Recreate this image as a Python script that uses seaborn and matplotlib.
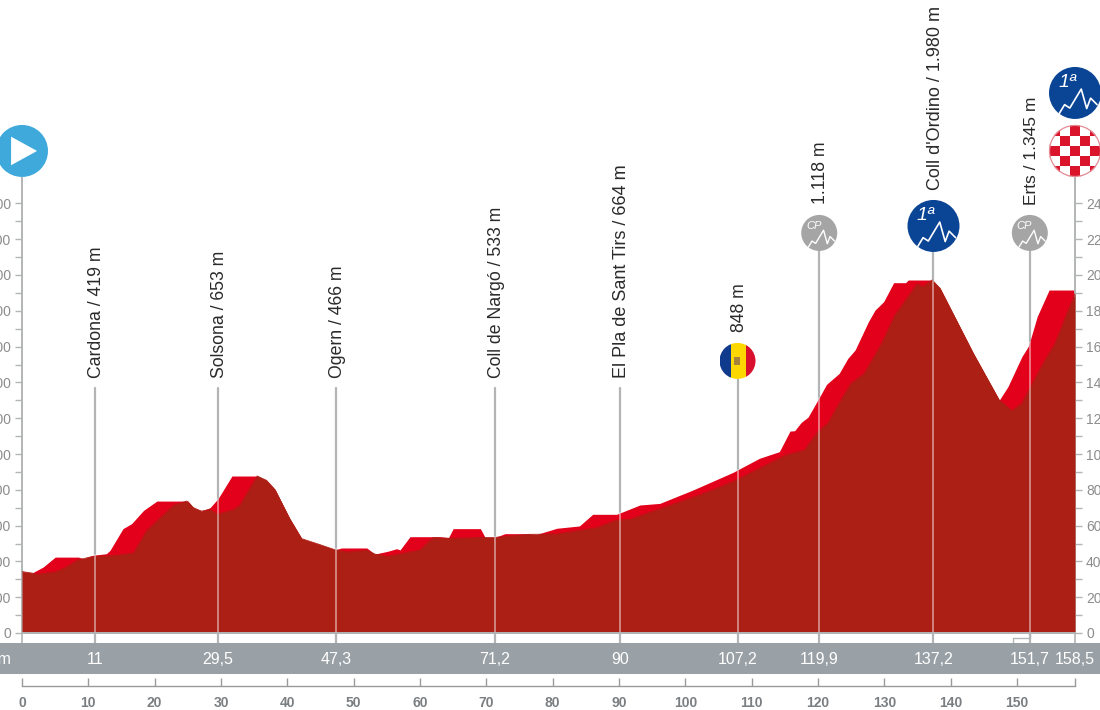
import numpy as np
import matplotlib
matplotlib.use('Agg')
import matplotlib.pyplot as plt
import seaborn as sns
from matplotlib.patches import Circle, Rectangle, Polygon
from matplotlib.transforms import ScaledTranslation

# profile: km and metres
km_dark = [0, 1.5, 2.2, 5, 6.5, 8.5, 9.2, 10.7, 13.75, 16.8, 18.8, 22.8, 24.8, 25.8, 27, 28.3, 29.4, 31.8, 32.8, 35.4,
           36.8, 38.1, 40.3, 42.1, 44.9, 47.1, 48.9, 51.9, 53.1, 55, 56.9, 59.9, 61.9, 64.2, 69, 71.2, 76.2, 80.5,
           86.5, 89.5, 91.5, 97, 102, 107, 111, 115, 117.8, 119.8, 121.3, 123, 124.8, 126.8, 129.4, 131.4, 134.7,
           135.6, 137, 138.2, 143.2, 147.1, 149, 150.5, 151.7, 153.7, 155.5, 158.5]
alt_dark = [343, 335, 328, 341, 365, 410, 415, 428, 432, 447, 573, 713, 737, 700, 681, 690, 663, 689, 713, 877,
            853, 800, 639, 527, 493, 465, 452, 462, 441, 428, 441, 464, 533, 529, 533, 534, 551, 553,
            588, 631, 635, 706, 771, 845, 920, 994, 1022, 1125, 1171, 1283, 1395, 1450, 1618, 1776, 1949,
            1935, 1972, 1925, 1562, 1301, 1242, 1283, 1367, 1506, 1618, 1897]
km_bright = [0, 1.5, 3.2, 5, 8.5, 9.2, 10.7, 12.7, 13.25, 15.2, 16.5, 18.3, 20.3, 25, 25.8, 27, 28.3, 29.5, 31.6, 35.4,
             36.8, 38.1, 40.3, 42.1, 44.9, 47.1, 48.1, 51.9, 53.1, 55, 56.4, 56.9, 58.4, 62.9, 64.2, 64.9, 69, 69.7,
             71.2, 72.7, 76.2, 77.5, 80.5, 83.9, 85.9, 89.5, 93, 96, 101, 107, 111, 114, 115.6, 116.3, 117.3, 118.3,
             119.8, 121.1, 123, 124.3, 125.4, 127.4, 128.4, 129.7, 131.2, 133, 133.4, 137, 138.2, 143.2, 147.1,
             148.4, 150.5, 151.5, 152.8, 154.6, 158.5]
alt_bright = [343, 335, 369, 424, 424, 415, 434, 443, 462, 583, 611, 685, 737, 737, 700, 681, 700, 750, 877, 877,
              853, 800, 639, 527, 493, 465, 475, 475, 441, 456, 471, 464, 538, 538, 533, 583, 583, 534,
              534, 555, 555, 551, 585, 598, 663, 663, 715, 724, 799, 897, 976, 1013, 1128, 1130, 1177, 1205,
              1302, 1389, 1450, 1534, 1581, 1739, 1804, 1851, 1957, 1957, 1972, 1972, 1925, 1562, 1301,
              1376, 1544, 1603, 1767, 1916, 1916]

# towns along the route
line_km = [11, 29.5, 47.3, 71.2, 90, 107.7, 120, 137.2, 151.7]
line_top = [1369, 1369, 1369, 1369, 1369, 1425, 2235, 2274, 2235]
place_labels = ['Cardona / 419 m', 'Solsona / 653 m', 'Ogern / 466 m', 'Coll de Nargó / 533 m',
                'El Pla de Sant Tirs / 664 m', '848 m', '1.118 m', "Coll d'Ordino / 1.980 m", 'Erts / 1.345 m']
label_base = [1425, 1425, 1425, 1425, 1425, 1682, 2397, 2475, 2391]
label_size = [12.7, 12.7, 12.7, 12.7, 13, 12.7, 12.7, 13, 12.5]
band_km = [11, 29.5, 47.3, 71.2, 90, 107.7, 120, 137.2, 151.7, 158.5]
band_labels = ['11', '29,5', '47,3', '71,2', '90', '107,2', '119,9', '137,2', '151,7', '158,5']
ruler_ticks = list(range(0, 151, 10))

BRIGHT = '#e2001a'
DARK = '#ab1f14'
GRID = '#b2b4b6'
BAND = '#9aa1a6'
BLUE = '#0a4595'

sns.set_theme(style='white')
plt.rcParams['font.family'] = ['Liberation Sans', 'DejaVu Sans']

W, H = 1100, 710
fig = plt.figure(figsize=(W / 100, H / 100), dpi=100)

# main profile axes, px 22..1075 across and 178..633 down
ax = fig.add_axes([22 / W, (H - 633) / H, 1053 / W, 455 / H])
ax.set_xlim(0, 158.5)
ax.set_ylim(0, 455 / 0.179)
ax.patch.set_alpha(0)

ax.fill_between(km_bright, alt_bright, 0, color=BRIGHT, lw=0, zorder=2)
ax.fill_between(km_dark, alt_dark, 0, color=DARK, lw=0, zorder=3)
sns.lineplot(x=km_dark, y=alt_dark, color=DARK, lw=0.6, ax=ax, zorder=3, estimator=None, sort=False)

for km, top, label, base, size in zip(line_km, line_top, place_labels, label_base, label_size):
    ax.plot([km, km], [-56, top], color=GRID, lw=1.6, zorder=1, clip_on=False)
    # the line shows through the red as a pale stripe
    ax.plot([km, km], [0, np.interp(km, km_bright, alt_bright)], color='white', lw=1.4, alpha=0.45, zorder=4)
    ax.text(km + 0.25, base, label, rotation=90, ha='center', va='bottom', fontsize=size, color='#2a2a2a', clip_on=False)

# leader from Erts down to its label in the band
ax.plot([151.7, 151.7, 149.1, 149.1], [0, -28, -28, -56], color=GRID, lw=1, clip_on=False, zorder=4)
ax.plot([158.5, 158.5], [0, -56], color=GRID, lw=1.2, clip_on=False)
ax.plot([0, 0], [0, -56], color=GRID, lw=1.2, clip_on=False)

ax.spines['top'].set_visible(False)
for side in ['left', 'right', 'bottom']:
    ax.spines[side].set_color(GRID)
    ax.spines[side].set_linewidth(1.4)
ax.spines['bottom'].set_zorder(5)
ax.set_xticks([])
ax.set_yticks(np.arange(0, 2401, 200))
ax.set_yticks(np.arange(100, 2400, 200), minor=True)
ax.tick_params(axis='y', which='both', left=True, right=True, labelleft=True, labelright=True,
               length=5, width=1, color=GRID, labelcolor='#8c8c8c', labelsize=10, pad=3)
ax.grid(False)

# grey km band
band = fig.add_axes([0, (H - 674) / H, 1, 31 / H])
band.set_facecolor(BAND)
band.set_xlim(-22 / 6.644, 1078 / 6.644)
band.set_ylim(0, 1)
band.set_xticks([])
band.set_yticks([])
for s in band.spines.values():
    s.set_visible(False)
for km, label in zip(band_km, band_labels):
    band.text(km, 0.48, label, color='white', ha='center', va='center', fontsize=11.5)
band.text(-1.5, 0.48, 'Km', color='white', ha='right', va='center', fontsize=11.5)

# distance ruler
ruler = fig.add_axes([22 / W, (H - 686) / H, 1053 / W, 0.001])
ruler.set_xlim(0, 158.75)
ruler.set_yticks([])
ruler.patch.set_alpha(0)
for side in ['top', 'left', 'right']:
    ruler.spines[side].set_visible(False)
ruler.spines['bottom'].set_color('#9a9a9a')
ruler.spines['bottom'].set_linewidth(1)
ruler.set_xticks(ruler_ticks + [158.7])
ruler.set_xticklabels([str(t) for t in ruler_ticks] + [''], fontsize=10, fontweight='bold', color='#7b7f82')
ruler.tick_params(axis='x', direction='in', length=6, width=1, color='#9a9a9a', pad=7, bottom=True)


def disc(km, alt, r, color, z=6):
    c = Circle((0, 0), r, transform=ScaledTranslation(km, alt, ax.transData), color=color, lw=0, zorder=z, clip_on=False)
    ax.add_patch(c)
    return c


def clip_to(patch, c):
    patch.set_clip_box(None)
    patch.set_clip_path(c)


def climb_badge(km, alt, r, color, text, size, lw):
    disc(km, alt, r, color)
    tr = ScaledTranslation(km, alt, ax.transData)
    shape = np.array([(-.6, -.78), (-.4, -.45), (-.2, -.58), (.24, .15), (.45, -.6), (.6, -.2), (.85, -.45)]) * r
    ax.plot(shape[:, 0], shape[:, 1], color='white', lw=lw, transform=tr, zorder=7, clip_on=False)
    ax.annotate(text, (km, alt), xytext=(-0.3 * r * 0.72, 0.4 * r * 0.72), textcoords='offset points', color='white',
                ha='center', va='center', fontsize=size, style='italic', zorder=7, annotation_clip=False)


# start marker
disc(0, 2693, 26, '#3fa9dc')
tr0 = ScaledTranslation(0, 2693, ax.transData)
ax.add_patch(Polygon(np.array([(-.42, .55), (-.42, -.55), (.58, 0)]) * 26, transform=tr0, color='white', lw=0, zorder=7, clip_on=False))

# mountain passes
climb_badge(120, 2235, 18, '#a5a5a5', 'CP', 8, 1.0)
climb_badge(151.7, 2235, 18, '#a5a5a5', 'CP', 8, 1.0)
climb_badge(137.2, 2274, 26, BLUE, '1ª', 14, 1.2)
climb_badge(158.5, 3017, 26, BLUE, '1ª', 14, 1.2)

# finish: checkered disc
c = disc(158.5, 2693, 26, 'white')
tr1 = ScaledTranslation(158.5, 2693, ax.transData)
sq = 10.2
for i in range(-3, 4):
    for j in range(-3, 4):
        if (i + j) % 2 == 0:
            r = Rectangle(((i - 0.5) * sq, (j - 0.5) * sq), sq, sq, transform=tr1, color='#d9142b', lw=0, zorder=7)
            ax.add_patch(r)
            clip_to(r, c)
ax.add_patch(Circle((0, 0), 25.5, transform=tr1, fill=False, ec='#e58a94', lw=0.9, zorder=8, clip_on=False))

# andorra flag
c = disc(107.7, 1520, 18, 'white')
tr2 = ScaledTranslation(107.7, 1520, ax.transData)
for x0, wd, col in [(-18, 11.5, '#103a8c'), (-6.5, 15, '#fdd800'), (8.5, 9.5, '#d90f2e')]:
    r = Rectangle((x0, -18), wd, 36, transform=tr2, color=col, lw=0, zorder=7)
    ax.add_patch(r)
    clip_to(r, c)
ax.add_patch(Rectangle((-3.5, -4), 6, 8, transform=tr2, color='#a5843a', lw=0, zorder=8, clip_on=False))

fig.savefig('out.png', dpi=100, facecolor='white')
